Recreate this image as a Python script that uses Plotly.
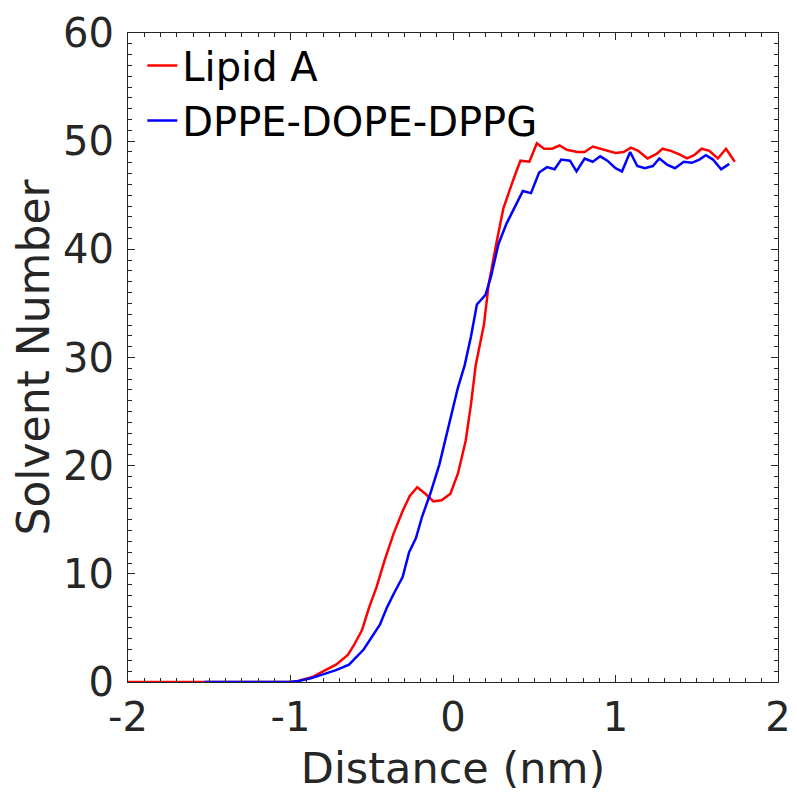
import plotly.graph_objects as go

# Lipid A
lipid_x = [-2.0, -1.8, -1.6, -1.4, -1.2, -1.0, -0.953, -0.86, -0.797, -0.72, -0.647, -0.61, -0.56, -0.516,
           -0.47, -0.42, -0.366, -0.31, -0.266, -0.22, -0.17, -0.12, -0.07, -0.016, 0.031, 0.078,
           0.11, 0.14, 0.19, 0.22, 0.266, 0.31, 0.375, 0.415, 0.47, 0.516, 0.56, 0.61, 0.656,
           0.70, 0.766, 0.81, 0.86, 0.906, 0.95, 1.0, 1.05, 1.094, 1.14, 1.197, 1.25, 1.29,
           1.34, 1.39, 1.44, 1.484, 1.53, 1.578, 1.63, 1.68, 1.734]
lipid_y = [0, 0, 0, 0, 0, 0, 0.1, 0.5, 1.0, 1.6, 2.5, 3.4, 4.8, 6.9,
           8.8, 11.3, 13.7, 15.8, 17.2, 18.0, 17.4, 16.7, 16.8, 17.4, 19.3, 22.3,
           25.6, 29.3, 33.0, 36.8, 40.5, 43.8, 46.6, 48.2, 48.1, 49.8, 49.3, 49.3, 49.6,
           49.2, 49.0, 49.0, 49.5, 49.3, 49.1, 48.9, 49.0, 49.4, 49.1, 48.4, 48.8, 49.3,
           49.1, 48.8, 48.4, 48.7, 49.3, 49.1, 48.4, 49.3, 48.1]

# DPPE-DOPE-DPPG
mix_x = [-1.53, -1.4, -1.2, -1.0, -0.95, -0.875, -0.8, -0.72, -0.64, -0.55, -0.45, -0.406, -0.36,
         -0.31, -0.27, -0.228, -0.19, -0.14, -0.084, -0.04, -0.006, 0.03, 0.072, 0.11, 0.147,
         0.2, 0.234, 0.28, 0.33, 0.375, 0.43, 0.48, 0.53, 0.578, 0.625, 0.666, 0.72, 0.76,
         0.81, 0.86, 0.906, 0.95, 1.0, 1.04, 1.09, 1.134, 1.18, 1.23, 1.27, 1.32, 1.366,
         1.42, 1.47, 1.516, 1.556, 1.6, 1.65, 1.70]
mix_y = [0, 0, 0, 0, 0.1, 0.35, 0.7, 1.1, 1.6, 3.0, 5.3, 6.9, 8.3,
         9.7, 12.0, 13.3, 15.3, 17.4, 20.1, 22.8, 25.1, 27.2, 29.3, 31.9, 34.9,
         35.8, 37.5, 40.5, 42.4, 43.8, 45.4, 45.2, 47.1, 47.6, 47.4, 48.3, 48.2, 47.2,
         48.4, 48.1, 48.6, 48.2, 47.5, 47.2, 49.0, 47.7, 47.5, 47.7, 48.4, 47.8, 47.5,
         48.1, 48.0, 48.3, 48.7, 48.3, 47.4, 47.9]

x_ticks = [-2, -1, 0, 1, 2]
y_ticks = [0, 10, 20, 30, 40, 50, 60]

AX = "#262626"
FONT = "DejaVu Sans"

fig = go.Figure()
fig.add_trace(go.Scatter(x=lipid_x, y=lipid_y, mode="lines", name="Lipid A",
                         line=dict(color="#ff0000", width=2.5)))
fig.add_trace(go.Scatter(x=mix_x, y=mix_y, mode="lines", name="DPPE-DOPE-DPPG",
                         line=dict(color="#0000ff", width=2.5)))

axis_common = dict(
    showgrid=False, zeroline=False, showline=True, linecolor=AX, linewidth=1,
    mirror="ticks", ticks="inside", ticklen=7, tickcolor=AX, tickwidth=1,
    tickfont=dict(family=FONT, size=40, color=AX), automargin=False,
)

fig.update_xaxes(range=[-2, 2], tickvals=x_ticks, ticktext=[str(v) for v in x_ticks],
                 ticklabelstandoff=0,
                 title=dict(text="Distance (nm)", font=dict(family=FONT, size=43, color=AX), standoff=16),
                 minor=dict(dtick=0.1, ticks="inside", ticklen=4, tickcolor=AX, tickwidth=1),
                 **axis_common)
fig.update_yaxes(range=[0, 60], tickvals=y_ticks, ticktext=[str(v) for v in y_ticks],
                 ticklabelstandoff=5,
                 title=dict(text="Solvent Number", font=dict(family=FONT, size=44, color=AX), standoff=3),
                 minor=dict(dtick=1, ticks="inside", ticklen=4, tickcolor=AX, tickwidth=1),
                 **axis_common)

# the page body adds an 8px offset, so the figure is sized to the remaining window area
fig.update_layout(
    width=789, height=785,
    margin=dict(l=120, r=19, t=25, b=111),
    plot_bgcolor="white", paper_bgcolor="white",
    font=dict(family=FONT, color="#000000"),
    showlegend=True,
    legend=dict(x=0.022, y=1.0, xanchor="left", yanchor="top", bgcolor="rgba(0,0,0,0)",
                borderwidth=0, font=dict(family=FONT, size=40, color="#000000"),
                itemwidth=30, tracegroupgap=0),
)

fig.write_html("out.html")
